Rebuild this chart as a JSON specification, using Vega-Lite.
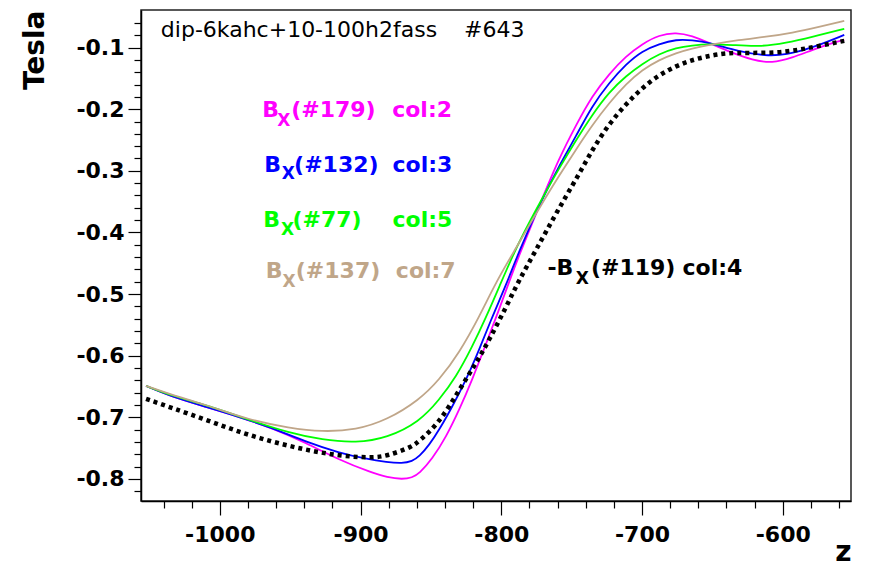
{
  "$schema": "https://vega.github.io/schema/vega-lite/v6.json",
  "width": 710,
  "height": 491,
  "autosize": {"type": "none"},
  "padding": {"left": 141, "top": 10, "right": 19, "bottom": 65},
  "background": "white",
  "config": {
    "view": {"stroke": "#222222", "strokeWidth": 1.5},
    "font": "DejaVu Sans"
  },
  "datasets": {
    "curves": [
      {"s":"m","z":-1052.4,"b":-0.6492},{"s":"m","z":-1033.9,"b":-0.6670},{"s":"m","z":-1009.7,"b":-0.6833},{"s":"m","z":-986.3,"b":-0.6995},{"s":"m","z":-962.8,"b":-0.7174},{"s":"m","z":-938.7,"b":-0.7417},{"s":"m","z":-915.2,"b":-0.7693},{"s":"m","z":-891.8,"b":-0.7904},{"s":"m","z":-881.1,"b":-0.7975},{"s":"m","z":-870.4,"b":-0.8010},{"s":"m","z":-863.3,"b":-0.7980},{"s":"m","z":-858.3,"b":-0.7915},{"s":"m","z":-849.1,"b":-0.7680},{"s":"m","z":-839.2,"b":-0.7320},{"s":"m","z":-829.9,"b":-0.6882},{"s":"m","z":-820.7,"b":-0.6395},{"s":"m","z":-810.7,"b":-0.5800},{"s":"m","z":-801.5,"b":-0.5250},{"s":"m","z":-794.4,"b":-0.4800},{"s":"m","z":-787.3,"b":-0.4370},{"s":"m","z":-773.1,"b":-0.3570},{"s":"m","z":-758.9,"b":-0.2791},{"s":"m","z":-746.8,"b":-0.2255},{"s":"m","z":-735.4,"b":-0.1784},{"s":"m","z":-723.4,"b":-0.1427},{"s":"m","z":-711.2,"b":-0.1135},{"s":"m","z":-699.9,"b":-0.0940},{"s":"m","z":-687.8,"b":-0.0794},{"s":"m","z":-675.7,"b":-0.0755},{"s":"m","z":-664.4,"b":-0.0810},{"s":"m","z":-652.3,"b":-0.0924},{"s":"m","z":-636.0,"b":-0.1086},{"s":"m","z":-621.7,"b":-0.1200},{"s":"m","z":-607.5,"b":-0.1255},{"s":"m","z":-593.3,"b":-0.1167},{"s":"m","z":-579.1,"b":-0.1037},{"s":"m","z":-564.9,"b":-0.0924},{"s":"m","z":-556.3,"b":-0.0875},
      {"s":"b","z":-1052.4,"b":-0.6492},{"s":"b","z":-1033.9,"b":-0.6670},{"s":"b","z":-1009.7,"b":-0.6833},{"s":"b","z":-986.3,"b":-0.6995},{"s":"b","z":-962.8,"b":-0.7174},{"s":"b","z":-938.7,"b":-0.7401},{"s":"b","z":-915.2,"b":-0.7580},{"s":"b","z":-896.0,"b":-0.7677},{"s":"b","z":-881.1,"b":-0.7730},{"s":"b","z":-870.4,"b":-0.7750},{"s":"b","z":-863.3,"b":-0.7715},{"s":"b","z":-858.3,"b":-0.7640},{"s":"b","z":-851.2,"b":-0.7450},{"s":"b","z":-844.1,"b":-0.7206},{"s":"b","z":-834.9,"b":-0.6833},{"s":"b","z":-825.0,"b":-0.6395},{"s":"b","z":-815.7,"b":-0.5907},{"s":"b","z":-806.5,"b":-0.5372},{"s":"b","z":-796.5,"b":-0.4850},{"s":"b","z":-788.0,"b":-0.4340},{"s":"b","z":-770.9,"b":-0.3450},{"s":"b","z":-758.9,"b":-0.2921},{"s":"b","z":-746.8,"b":-0.2434},{"s":"b","z":-735.4,"b":-0.1946},{"s":"b","z":-723.4,"b":-0.1573},{"s":"b","z":-711.2,"b":-0.1265},{"s":"b","z":-699.9,"b":-0.1054},{"s":"b","z":-687.8,"b":-0.0940},{"s":"b","z":-675.7,"b":-0.0867},{"s":"b","z":-664.4,"b":-0.0880},{"s":"b","z":-652.3,"b":-0.0916},{"s":"b","z":-631.0,"b":-0.1070},{"s":"b","z":-611.8,"b":-0.1135},{"s":"b","z":-597.6,"b":-0.1119},{"s":"b","z":-579.1,"b":-0.1005},{"s":"b","z":-556.3,"b":-0.0794},
      {"s":"g","z":-1052.4,"b":-0.6492},{"s":"g","z":-1033.9,"b":-0.6654},{"s":"g","z":-1009.7,"b":-0.6800},{"s":"g","z":-979.2,"b":-0.7044},{"s":"g","z":-950.7,"b":-0.7255},{"s":"g","z":-927.3,"b":-0.7368},{"s":"g","z":-903.1,"b":-0.7417},{"s":"g","z":-881.1,"b":-0.7336},{"s":"g","z":-858.3,"b":-0.7076},{"s":"g","z":-844.1,"b":-0.6719},{"s":"g","z":-832.1,"b":-0.6346},{"s":"g","z":-820.7,"b":-0.5859},{"s":"g","z":-810.7,"b":-0.5372},{"s":"g","z":-801.5,"b":-0.4885},{"s":"g","z":-790.8,"b":-0.4317},{"s":"g","z":-780.0,"b":-0.3830},{"s":"g","z":-768.1,"b":-0.3330},{"s":"g","z":-758.9,"b":-0.2960},{"s":"g","z":-746.8,"b":-0.2500},{"s":"g","z":-735.4,"b":-0.2090},{"s":"g","z":-723.4,"b":-0.1720},{"s":"g","z":-711.2,"b":-0.1459},{"s":"g","z":-699.9,"b":-0.1265},{"s":"g","z":-687.8,"b":-0.1102},{"s":"g","z":-675.7,"b":-0.1005},{"s":"g","z":-664.4,"b":-0.0964},{"s":"g","z":-652.3,"b":-0.0940},{"s":"g","z":-636.0,"b":-0.0956},{"s":"g","z":-616.8,"b":-0.0989},{"s":"g","z":-597.6,"b":-0.0924},{"s":"g","z":-579.1,"b":-0.0826},{"s":"g","z":-556.3,"b":-0.0696},
      {"s":"t","z":-1052.4,"b":-0.6492},{"s":"t","z":-1033.9,"b":-0.6638},{"s":"t","z":-1009.7,"b":-0.6800},{"s":"t","z":-979.2,"b":-0.7044},{"s":"t","z":-950.7,"b":-0.7174},{"s":"t","z":-927.3,"b":-0.7239},{"s":"t","z":-903.1,"b":-0.7206},{"s":"t","z":-881.1,"b":-0.7044},{"s":"t","z":-858.3,"b":-0.6719},{"s":"t","z":-844.1,"b":-0.6395},{"s":"t","z":-829.9,"b":-0.5956},{"s":"t","z":-815.7,"b":-0.5372},{"s":"t","z":-803.6,"b":-0.4800},{"s":"t","z":-789.4,"b":-0.4250},{"s":"t","z":-778.0,"b":-0.3800},{"s":"t","z":-768.1,"b":-0.3420},{"s":"t","z":-758.9,"b":-0.3080},{"s":"t","z":-746.8,"b":-0.2650},{"s":"t","z":-735.4,"b":-0.2260},{"s":"t","z":-723.4,"b":-0.1900},{"s":"t","z":-711.2,"b":-0.1589},{"s":"t","z":-699.9,"b":-0.1362},{"s":"t","z":-687.8,"b":-0.1200},{"s":"t","z":-675.7,"b":-0.1086},{"s":"t","z":-664.4,"b":-0.1013},{"s":"t","z":-652.3,"b":-0.0956},{"s":"t","z":-631.0,"b":-0.0875},{"s":"t","z":-611.8,"b":-0.0826},{"s":"t","z":-593.3,"b":-0.0761},{"s":"t","z":-574.1,"b":-0.0664},{"s":"t","z":-556.3,"b":-0.0567},
      {"s":"k","z":-1052.4,"b":-0.6703},{"s":"k","z":-1033.9,"b":-0.6849},{"s":"k","z":-1009.7,"b":-0.7044},{"s":"k","z":-986.3,"b":-0.7239},{"s":"k","z":-962.8,"b":-0.7401},{"s":"k","z":-938.7,"b":-0.7531},{"s":"k","z":-915.2,"b":-0.7628},{"s":"k","z":-891.8,"b":-0.7661},{"s":"k","z":-881.1,"b":-0.7628},{"s":"k","z":-863.3,"b":-0.7482},{"s":"k","z":-858.3,"b":-0.7385},{"s":"k","z":-844.1,"b":-0.7093},{"s":"k","z":-829.9,"b":-0.6557},{"s":"k","z":-817.8,"b":-0.6119},{"s":"k","z":-808.6,"b":-0.5745},{"s":"k","z":-796.5,"b":-0.5209},{"s":"k","z":-787.3,"b":-0.4771},{"s":"k","z":-775.2,"b":-0.4284},{"s":"k","z":-761.0,"b":-0.3683},{"s":"k","z":-744.6,"b":-0.3050},{"s":"k","z":-735.4,"b":-0.2660},{"s":"k","z":-723.4,"b":-0.2238},{"s":"k","z":-711.2,"b":-0.1914},{"s":"k","z":-699.9,"b":-0.1654},{"s":"k","z":-687.8,"b":-0.1443},{"s":"k","z":-675.7,"b":-0.1297},{"s":"k","z":-664.4,"b":-0.1200},{"s":"k","z":-652.3,"b":-0.1135},{"s":"k","z":-640.2,"b":-0.1086},{"s":"k","z":-623.9,"b":-0.1086},{"s":"k","z":-604.7,"b":-0.1086},{"s":"k","z":-588.3,"b":-0.1037},{"s":"k","z":-574.1,"b":-0.0972},{"s":"k","z":-556.3,"b":-0.0891}
    ],
    "labels": [
      {"w":"n","z":-1041.9,"b":-0.0821,"t":"dip-6kahc+10-100h2fass","c":"#000000","fs":22},
      {"w":"n","z":-826.4,"b":-0.0821,"t":"#643","c":"#000000","fs":22},
      {"w":"b","z":-969.9,"b":-0.2130,"t":"B","c":"#ff00ff","fs":22},
      {"w":"b","z":-959.1,"b":-0.2271,"t":"X","c":"#ff00ff","fs":17},
      {"w":"b","z":-949.3,"b":-0.2130,"t":"(#179)","c":"#ff00ff","fs":22},
      {"w":"b","z":-877.5,"b":-0.2130,"t":"col:2","c":"#ff00ff","fs":22},
      {"w":"b","z":-968.5,"b":-0.3013,"t":"B","c":"#0000ff","fs":22},
      {"w":"b","z":-955.9,"b":-0.3136,"t":"X","c":"#0000ff","fs":17},
      {"w":"b","z":-947.2,"b":-0.3013,"t":"(#132)","c":"#0000ff","fs":22},
      {"w":"b","z":-877.3,"b":-0.3013,"t":"col:3","c":"#0000ff","fs":22},
      {"w":"b","z":-969.2,"b":-0.3916,"t":"B","c":"#00ff00","fs":22},
      {"w":"b","z":-956.6,"b":-0.4041,"t":"X","c":"#00ff00","fs":17},
      {"w":"b","z":-948.4,"b":-0.3916,"t":"(#77)","c":"#00ff00","fs":22},
      {"w":"b","z":-877.3,"b":-0.3916,"t":"col:5","c":"#00ff00","fs":22},
      {"w":"b","z":-967.3,"b":-0.4744,"t":"B","c":"#c0a689","fs":22},
      {"w":"b","z":-955.5,"b":-0.4880,"t":"X","c":"#c0a689","fs":17},
      {"w":"b","z":-946.0,"b":-0.4744,"t":"(#137)","c":"#c0a689","fs":22},
      {"w":"b","z":-874.9,"b":-0.4744,"t":"col:7","c":"#c0a689","fs":22},
      {"w":"b","z":-767.2,"b":-0.4690,"t":"-B","c":"#000000","fs":22},
      {"w":"b","z":-747.0,"b":-0.4836,"t":"X","c":"#000000","fs":17},
      {"w":"b","z":-736.3,"b":-0.4690,"t":"(#119)","c":"#000000","fs":22},
      {"w":"b","z":-671.2,"b":-0.4690,"t":"col:4","c":"#000000","fs":22}
    ]
  },
  "encoding": {
    "x": {
      "field": "z", "type": "quantitative",
      "scale": {"domain": [-1056, -551.5], "nice": false, "zero": false},
      "axis": {
        "title": "z",
        "titleAnchor": "end",
        "titleFont": "DejaVu Sans", "titleFontWeight": "bold", "titleFontSize": 28,
        "titleColor": "#000000", "titlePadding": -7,
        "values": [-1040,-1020,-1000,-980,-960,-940,-920,-900,-880,-860,-840,-820,-800,-780,-760,-740,-720,-700,-680,-660,-640,-620,-600,-580,-560],
        "labelExpr": "datum.value % 100 === 0 ? '' + datum.value : ''",
        "tickSize": {"condition": {"test": "datum.value % 100 === 0", "value": 14}, "value": 7},
        "labelFont": "DejaVu Sans", "labelFontWeight": "bold", "labelFontSize": 22,
        "labelColor": "#000000", "labelPadding": 9, "labelOverlap": false, "labelFlush": false,
        "domainColor": "#000000", "domainWidth": 1.5, "tickColor": "#000000", "tickWidth": 1.2,
        "grid": false
      }
    },
    "y": {
      "field": "b", "type": "quantitative",
      "scale": {"domain": [-0.836, -0.039], "nice": false, "zero": false},
      "axis": {
        "title": "Tesla",
        "titleAnchor": "end",
        "titleFont": "DejaVu Sans", "titleFontWeight": "bold", "titleFontSize": 28,
        "titleColor": "#000000", "titlePadding": 26,
        "values": [-0.82,-0.8,-0.78,-0.76,-0.74,-0.72,-0.7,-0.68,-0.66,-0.64,-0.62,-0.6,-0.58,-0.56,-0.54,-0.52,-0.5,-0.48,-0.46,-0.44,-0.42,-0.4,-0.38,-0.36,-0.34,-0.32,-0.3,-0.28,-0.26,-0.24,-0.22,-0.2,-0.18,-0.16,-0.14,-0.12,-0.1,-0.08,-0.06],
        "labelExpr": "abs(datum.value * 10 - round(datum.value * 10)) < 0.001 ? '' + round(datum.value * 10) / 10 : ''",
        "tickSize": {"condition": {"test": "abs(datum.value * 10 - round(datum.value * 10)) < 0.001", "value": 13}, "value": 7},
        "labelFont": "DejaVu Sans", "labelFontWeight": "bold", "labelFontSize": 22,
        "labelColor": "#000000", "labelPadding": 4, "labelOverlap": false, "labelFlush": false,
        "domainColor": "#000000", "domainWidth": 1.5, "tickColor": "#000000", "tickWidth": 1.2,
        "grid": false
      }
    }
  },
  "layer": [
    {
      "data": {"name": "curves"},
      "transform": [{"filter": "datum.s !== 'k'"}],
      "mark": {"type": "line", "interpolate": "basis", "strokeWidth": 1.8},
      "encoding": {
        "color": {"field": "s", "type": "nominal", "scale": {"domain": ["t", "g", "b", "m"], "range": ["#c0a689", "#00ff00", "#0000ff", "#ff00ff"]}, "legend": null},
        "order": {"field": "z", "type": "quantitative"}
      }
    },
    {
      "data": {"name": "curves"},
      "transform": [{"filter": "datum.s === 'k'"}],
      "mark": {"type": "line", "interpolate": "basis", "strokeWidth": 4.5, "strokeDash": [4, 4], "color": "#000000", "strokeCap": "butt"},
      "encoding": {}
    },
    {
      "data": {"name": "labels"},
      "transform": [{"filter": "datum.w === 'b'"}],
      "mark": {"type": "text", "align": "left", "baseline": "alphabetic", "font": "DejaVu Sans", "fontWeight": "bold"},
      "encoding": {
        "text": {"field": "t"},
        "color": {"field": "c", "type": "nominal", "scale": null},
        "size": {"field": "fs", "type": "quantitative", "scale": null}
      }
    },
    {
      "data": {"name": "labels"},
      "transform": [{"filter": "datum.w === 'n'"}],
      "mark": {"type": "text", "align": "left", "baseline": "alphabetic", "font": "DejaVu Sans", "fontWeight": "normal"},
      "encoding": {
        "text": {"field": "t"},
        "color": {"field": "c", "type": "nominal", "scale": null},
        "size": {"field": "fs", "type": "quantitative", "scale": null}
      }
    }
  ]
}
